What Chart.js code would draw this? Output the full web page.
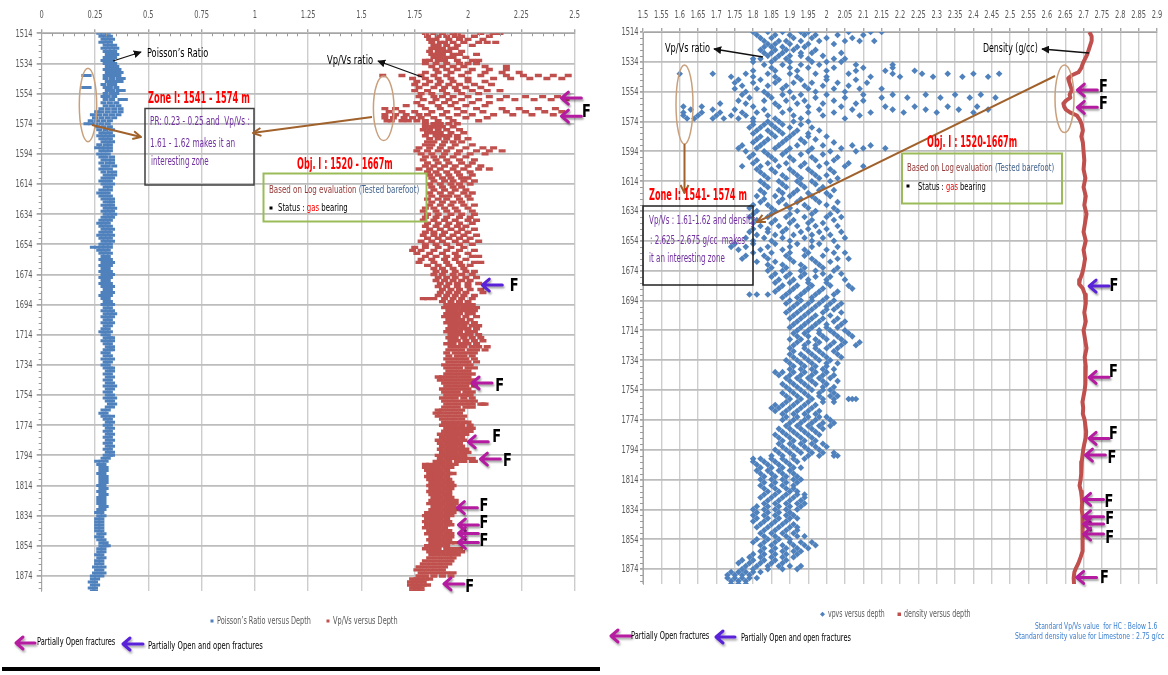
<!DOCTYPE html>
<html lang="en">
<head>
<meta charset="utf-8">
<title>Poisson's ratio, Vp/Vs and density versus depth</title>
<script src="https://cdn.jsdelivr.net/npm/chart.js@4.4.1/dist/chart.umd.min.js"></script>
<style>
  html,body{margin:0;padding:0;background:#fff;}
  #page{position:relative;width:1168px;height:675px;overflow:hidden;background:#fff;
        font-family:'Liberation Sans Narrow','DejaVu Sans Condensed','Liberation Sans',sans-serif;}
  #page canvas{position:absolute;top:0;}
  #cvL{left:0;}
  #cvR{left:600px;}
  svg.overlay{position:absolute;left:0;top:0;}
  .t{position:absolute;white-space:nowrap;line-height:1.15;transform-origin:0 50%;transform:translateY(-50%);}
  .red{color:#ff0000;font-weight:bold;}
  .pur{color:#7030a0;}
  .lg{color:#595959;}
  .note{color:#3a7fd0;}
  .bar{position:absolute;left:2px;top:667px;width:598px;height:4px;background:#000;}
</style>
</head>
<body>
<div id="page">
  <canvas id="cvL" width="598" height="600"></canvas>
  <canvas id="cvR" width="568" height="600"></canvas>

  <svg class="overlay" width="1168" height="675" viewBox="0 0 1168 675">
    <defs>
      <marker id="hk" viewBox="0 0 10 10" refX="9" refY="5" markerUnits="userSpaceOnUse" markerWidth="8" markerHeight="8" orient="auto">
        <path d="M0,0 L10,5 L0,10 z" fill="#111"/>
      </marker>
      <marker id="hb" viewBox="0 0 10 10" refX="9" refY="5" markerUnits="userSpaceOnUse" markerWidth="10" markerHeight="10" orient="auto">
        <path d="M1,1 L9,5 L1,9" fill="none" stroke="#a0612b" stroke-width="2"/>
      </marker>
      <filter id="sh" x="-30%" y="-60%" width="160%" height="220%">
        <feDropShadow dx="1" dy="2" stdDeviation="1" flood-color="#000" flood-opacity="0.35"/>
      </filter>
    </defs>

    <!-- left panel callouts -->
    <line x1="113" y1="61" x2="141" y2="52" stroke="#111" stroke-width="1.3" marker-end="url(#hk)"/>
    <ellipse cx="88" cy="105" rx="8.7" ry="36.7" fill="none" stroke="#c9a07c" stroke-width="1.5"/>
    <line x1="92" y1="125" x2="141" y2="137" stroke="#a0612b" stroke-width="2" marker-end="url(#hb)"/>
    <rect x="145" y="108.5" width="109" height="76.5" fill="none" stroke="#3f3f3f" stroke-width="1.5"/>
    <line x1="422" y1="77" x2="378" y2="61" stroke="#111" stroke-width="1.3" marker-end="url(#hk)"/>
    <ellipse cx="383.7" cy="108.3" rx="10.3" ry="32.3" fill="none" stroke="#c9a07c" stroke-width="1.5"/>
    <line x1="372" y1="117" x2="253" y2="133" stroke="#a0612b" stroke-width="2" marker-end="url(#hb)"/>
    <rect x="263.5" y="173.5" width="163" height="48" fill="none" stroke="#9bbb59" stroke-width="2"/>
    <rect x="269.5" y="206.5" width="3" height="3" fill="#000"/>

    <!-- right panel callouts -->
    <line x1="763" y1="57" x2="714" y2="49" stroke="#111" stroke-width="1.3" marker-end="url(#hk)"/>
    <ellipse cx="684.5" cy="104.5" rx="8.5" ry="39.5" fill="none" stroke="#c9a07c" stroke-width="1.5"/>
    <line x1="684.5" y1="144" x2="684.5" y2="193" stroke="#a0612b" stroke-width="2" marker-end="url(#hb)"/>
    <rect x="643" y="206" width="110" height="79" fill="none" stroke="#222" stroke-width="1.5"/>
    <line x1="1055" y1="76" x2="757" y2="222" stroke="#a0612b" stroke-width="2" marker-end="url(#hb)"/>
    <ellipse cx="1064.5" cy="98.8" rx="9.5" ry="33.8" fill="none" stroke="#c9a07c" stroke-width="1.5"/>
    <line x1="1089" y1="53" x2="1042" y2="49" stroke="#111" stroke-width="1.3" marker-end="url(#hk)"/>
    <rect x="902" y="153.5" width="160" height="50" fill="none" stroke="#9bbb59" stroke-width="2"/>
    <rect x="906.5" y="184.5" width="3" height="3" fill="#000"/>

    <!-- legend markers -->
    <rect x="210.5" y="619.5" width="3" height="3" fill="#4f81bd"/>
    <rect x="326.5" y="619.5" width="3" height="3" fill="#c0504d"/>
    <path d="M822.5,611.8 L825,614.3 L822.5,616.8 L820,614.3 z" fill="#4f81bd"/>
    <rect x="897.5" y="612.5" width="3.5" height="3.5" fill="#c0504d"/>

    <!-- fracture key arrows -->
    <g filter="url(#sh)" fill="none" stroke-width="3" stroke-linecap="round" stroke-linejoin="round">
      <path d="M35,643 H16 M23,637 L16,643 L23,649" stroke="#b51ba0"/>
      <path d="M143,644 H123 M130,638 L123,644 L130,650" stroke="#5a22d8"/>
      <path d="M631,636 H611 M618,630 L611,636 L618,642" stroke="#b51ba0"/>
      <path d="M735,637 H716 M723,631 L716,637 L723,643" stroke="#5a22d8"/>
    </g>
  </svg>

  <!-- left panel text -->
  <div class="t" data-w="61" style="left:147px;top:53px;font-size:13px;color:#000">Poisson’s Ratio</div>
  <div class="t" data-w="46" style="left:327px;top:60px;font-size:13px;color:#000">Vp/Vs ratio</div>
  <div class="t red" data-w="102" style="left:148px;top:99px;font-size:15px">Zone I: 1541 - 1574 m</div>
  <div class="t pur" data-w="100" style="left:150px;top:122px;font-size:11.5px">PR: 0.23 - 0.25 and&nbsp; Vp/Vs :</div>
  <div class="t pur" data-w="85" style="left:150px;top:143px;font-size:12.5px">1.61 - 1.62 makes it an</div>
  <div class="t pur" data-w="58" style="left:151px;top:162px;font-size:11.5px">interesting zone</div>
  <div class="t red" data-w="96" style="left:297px;top:165px;font-size:15px">Obj. I : 1520 - 1667m</div>
  <div class="t" data-w="150" style="left:269px;top:190px;font-size:11px"><span style="color:#953735">Based on Log evaluation</span> <span style="color:#44658f">(Tested barefoot)</span></div>
  <div class="t" data-w="70" style="left:278px;top:208px;font-size:11px;color:#000">Status : <span style="color:#ff0000">gas</span> bearing</div>
  <div class="t lg" data-w="94" style="left:217px;top:621px;font-size:10px">Poisson’s Ratio versus Depth</div>
  <div class="t lg" data-w="65" style="left:333px;top:621px;font-size:10px">Vp/Vs versus Depth</div>
  <div class="t" data-w="78" style="left:37px;top:641px;font-size:10.5px;color:#000">Partially Open fractures</div>
  <div class="t" data-w="115" style="left:148px;top:645px;font-size:10.5px;color:#000">Partially Open and open fractures</div>
  <div class="bar"></div>

  <!-- right panel text -->
  <div class="t" data-w="45" style="left:665px;top:48px;font-size:13px;color:#000">Vp/Vs ratio</div>
  <div class="t" data-w="55" style="left:983px;top:48px;font-size:13px;color:#000">Density (g/cc)</div>
  <div class="t red" data-w="98" style="left:649px;top:196px;font-size:15px">Zone I: 1541- 1574 m</div>
  <div class="t pur" data-w="106" style="left:649px;top:221px;font-size:12px">Vp/Vs : 1.61-1.62 and density</div>
  <div class="t pur" data-w="95" style="left:650px;top:241px;font-size:12px">: 2.625 -2.675 g/cc&nbsp; makes</div>
  <div class="t pur" data-w="76" style="left:649px;top:259px;font-size:12px">it an interesting zone</div>
  <div class="t red" data-w="90" style="left:927px;top:143px;font-size:15px">Obj. I : 1520-1667m</div>
  <div class="t" data-w="147" style="left:907px;top:168px;font-size:11px"><span style="color:#953735">Based on Log evaluation</span> <span style="color:#44658f">(Tested barefoot)</span></div>
  <div class="t" data-w="68" style="left:918px;top:187px;font-size:11px;color:#000">Status : <span style="color:#ff0000">gas</span> bearing</div>
  <div class="t lg" data-w="57" style="left:828px;top:614px;font-size:10px">vpvs versus depth</div>
  <div class="t lg" data-w="67" style="left:904px;top:614px;font-size:10px">density versus depth</div>
  <div class="t" data-w="78" style="left:631px;top:635px;font-size:10.5px;color:#000">Partially Open fractures</div>
  <div class="t" data-w="110" style="left:741px;top:637px;font-size:10.5px;color:#000">Partially Open and open fractures</div>
  <div class="t note" data-w="122" style="left:1035px;top:627px;font-size:8.5px">Standard Vp/Vs value&nbsp; for HC : Below 1.6</div>
  <div class="t note" data-w="149" style="left:1015px;top:637px;font-size:8.5px">Standard density value for Limestone : 2.75 g/cc</div>
</div>

<script>
// ---- axis tick values ----
const depthTicks = [1514, 1534, 1554, 1574, 1594, 1614, 1634, 1654, 1674, 1694, 1714, 1734,
                    1754, 1774, 1794, 1814, 1834, 1854, 1874];
const leftXTicks = [0, 0.25, 0.5, 0.75, 1, 1.25, 1.5, 1.75, 2, 2.25, 2.5];
const rightXTicks = [1.5, 1.55, 1.6, 1.65, 1.7, 1.75, 1.8, 1.85, 1.9, 1.95, 2, 2.05, 2.1, 2.15,
                     2.2, 2.25, 2.3, 2.35, 2.4, 2.45, 2.5, 2.55, 2.6, 2.65, 2.7, 2.75, 2.8, 2.85, 2.9];

// ---- Poisson's ratio: [depth, samples...] ----
const poissonRows = [
  [1514,0.27,0.29,0.31],[1516,0.28,0.30,0.32],[1518,0.29,0.31,0.33],[1520,0.28,0.30,0.32],
  [1522,0.30,0.32,0.34],[1524,0.29,0.31,0.33,0.35],[1526,0.30,0.32,0.34],[1528,0.31,0.33,0.35],
  [1530,0.30,0.32,0.34],[1532,0.29,0.31,0.33],[1534,0.30,0.32,0.34],[1536,0.31,0.33,0.35],
  [1538,0.30,0.32,0.34,0.36],[1540,0.31,0.33,0.35,0.37],[1542,0.20,0.22,0.30,0.32,0.34,0.36],
  [1544,0.30,0.33,0.36,0.38],[1546,0.31,0.33,0.35,0.37],[1548,0.29,0.32,0.34],
  [1550,0.20,0.22,0.30,0.32,0.35],[1552,0.31,0.33,0.36,0.38],[1554,0.30,0.33,0.35],
  [1556,0.29,0.31,0.34],[1558,0.30,0.33,0.37,0.39],[1560,0.29,0.32,0.35],[1562,0.30,0.33,0.36],
  [1564,0.28,0.31,0.34,0.37],[1566,0.26,0.28,0.31,0.34,0.37],[1568,0.24,0.27,0.30,0.33,0.36],
  [1570,0.25,0.28,0.31,0.34],[1572,0.23,0.26,0.29,0.32],[1574,0.21,0.23,0.25,0.28,0.31],
  [1576,0.26,0.29,0.32],[1578,0.27,0.30,0.33],[1580,0.28,0.30,0.32],[1582,0.27,0.29,0.31,0.33],
  [1584,0.28,0.30,0.32],[1586,0.29,0.31,0.33],[1588,0.27,0.30,0.32],[1590,0.26,0.28,0.30,0.32],
  [1592,0.28,0.30,0.32],[1594,0.27,0.29,0.31],[1596,0.28,0.30,0.33],[1598,0.29,0.31,0.33],
  [1600,0.28,0.31,0.33],[1602,0.29,0.31,0.34],[1604,0.28,0.30,0.32],[1606,0.29,0.32,0.34],
  [1608,0.30,0.32,0.34],[1610,0.29,0.31,0.33],[1612,0.28,0.30,0.32],[1614,0.29,0.31,0.33],
  [1616,0.30,0.32],[1618,0.28,0.30,0.32],[1620,0.27,0.29,0.31],[1622,0.28,0.30,0.32],
  [1624,0.29,0.31,0.33],[1626,0.30,0.32,0.33],[1628,0.29,0.31,0.33],[1630,0.30,0.32,0.34],
  [1632,0.29,0.31,0.33],[1634,0.30,0.32,0.34],[1636,0.29,0.31,0.33],[1638,0.28,0.30,0.32],
  [1640,0.27,0.29,0.31],[1642,0.28,0.30,0.32],[1644,0.29,0.31,0.33],[1646,0.28,0.30,0.32],
  [1648,0.27,0.29,0.31,0.33],[1650,0.28,0.30,0.32],[1652,0.29,0.31,0.33],[1654,0.28,0.30,0.32],
  [1656,0.24,0.26,0.28,0.30,0.32],[1658,0.27,0.29,0.31],[1660,0.28,0.30,0.32],[1662,0.29,0.31],
  [1664,0.28,0.30,0.32],[1666,0.29,0.31,0.33],[1668,0.28,0.30,0.32],[1670,0.29,0.31],
  [1672,0.28,0.30,0.32],[1674,0.29,0.31,0.33],[1676,0.28,0.30,0.32],[1678,0.29,0.31],
  [1680,0.28,0.30,0.32],[1682,0.29,0.31,0.33],[1684,0.30,0.32],[1686,0.29,0.31,0.33],
  [1688,0.28,0.30,0.32],[1690,0.29,0.31],[1692,0.30,0.32],[1694,0.29,0.31,0.33],
  [1696,0.30,0.32],[1698,0.29,0.31,0.33],[1700,0.30,0.32,0.34],[1702,0.29,0.31,0.33],
  [1704,0.30,0.32],[1706,0.29,0.31,0.33],[1708,0.30,0.32],[1710,0.29,0.31],
  [1712,0.28,0.30,0.32],[1714,0.29,0.31],[1716,0.30,0.32,0.33],[1718,0.29,0.31,0.33],
  [1720,0.30,0.32],[1722,0.31,0.33],[1724,0.30,0.32,0.33],[1726,0.29,0.31],
  [1728,0.30,0.32],[1730,0.29,0.31,0.33],[1732,0.30,0.32],[1734,0.29,0.31],
  [1736,0.30,0.32,0.33],[1738,0.31,0.33],[1740,0.30,0.32],[1742,0.31,0.33],
  [1744,0.30,0.32],[1746,0.31,0.33],[1748,0.30,0.32,0.34],[1750,0.31,0.33],
  [1752,0.30,0.32],[1754,0.31,0.33],[1756,0.30,0.32,0.34],[1758,0.31,0.33],
  [1760,0.32,0.34],[1762,0.31,0.33],[1764,0.29,0.31],[1766,0.28,0.30],
  [1768,0.29,0.31,0.33],[1770,0.30,0.32],[1772,0.31,0.33],[1774,0.30,0.32],
  [1776,0.31,0.33],[1778,0.30,0.32],[1780,0.31,0.33],[1782,0.30,0.32],
  [1784,0.31,0.33],[1786,0.30,0.32],[1788,0.31,0.33],[1790,0.30,0.32],
  [1792,0.31,0.33],[1794,0.30,0.32,0.33],[1796,0.29,0.31],[1798,0.26,0.28,0.30],
  [1800,0.27,0.29],[1802,0.28,0.30],[1804,0.28,0.30],[1806,0.27,0.29],
  [1808,0.28,0.30],[1810,0.28,0.30],[1812,0.28,0.30],[1814,0.27,0.29],
  [1816,0.28,0.30],[1818,0.27,0.29],[1820,0.28,0.30],[1822,0.27,0.29],
  [1824,0.27,0.29],[1826,0.27,0.29],[1828,0.28,0.30],[1830,0.27,0.29],
  [1832,0.26,0.28],[1834,0.27,0.29],[1836,0.26,0.28],[1838,0.26,0.28],
  [1840,0.26,0.28],[1842,0.26,0.28],[1844,0.26,0.28],[1846,0.27,0.29],
  [1848,0.26,0.28],[1850,0.27,0.29],[1852,0.28,0.30],[1854,0.28,0.30,0.31],
  [1856,0.27,0.29],[1858,0.27,0.29],[1860,0.26,0.28],[1862,0.27,0.29],
  [1864,0.26,0.28],[1866,0.26,0.28],[1868,0.25,0.27,0.29],[1870,0.26,0.28],
  [1872,0.25,0.27,0.29],[1874,0.24,0.26,0.28],[1876,0.24,0.26],[1878,0.23,0.25],
  [1880,0.24,0.26],[1882,0.23,0.25],[1884,0.24,0.25]
];

// ---- Vp/Vs ratio: [depth, samples...] (same log in both panels) ----
const vpvsRows = [
  [1514,1.80,1.84,1.88,1.93,1.95,2.06,2.12,2.15],[1516,1.81,1.86,1.90,1.94,1.97,2.03,2.10],
  [1518,1.82,1.85,1.91,1.96,2.00,2.07],[1520,1.83,1.87,1.89,1.93,1.98,2.05,2.09,2.13],
  [1522,1.84,1.86,1.90,1.95,2.02],[1524,1.83,1.85,1.88,1.92,1.94],[1526,1.82,1.86,1.89,1.91,1.97],
  [1528,1.83,1.85,1.88,1.93,1.96,2.04],[1530,1.84,1.87,1.90,1.93,1.99],
  [1532,1.80,1.82,1.86,1.89,1.95,2.02,2.05],[1534,1.80,1.85,1.90,1.96,2.00,2.04],
  [1536,1.83,1.88,1.93,1.98,2.08,2.18],[1538,1.85,1.90,1.95,2.02,2.10,2.18],
  [1540,1.80,1.86,1.92,2.00,2.08,2.16,2.24],
  [1542,1.60,1.69,1.78,1.84,1.90,1.97,2.06,2.18,2.26,2.33,2.40,2.47],
  [1544,1.74,1.80,1.86,1.92,2.00,2.12,2.20,2.29,2.37,2.44],[1546,1.76,1.82,1.87,1.93,2.00,2.08],
  [1548,1.75,1.80,1.86,1.91,1.96,2.03,2.11],[1550,1.77,1.84,1.89,1.94,1.99,2.06],
  [1552,1.75,1.81,1.88,1.95,2.02,2.09,2.15],[1554,1.78,1.83,1.90,1.97,2.05],
  [1556,1.77,1.84,1.88,1.93,2.00,2.10,2.18,2.27,2.35,2.42],
  [1558,1.79,1.85,1.91,1.97,2.05,2.15,2.22,2.31,2.39,2.46],[1560,1.76,1.83,1.89,1.94,2.02,2.10],
  [1562,1.71,1.78,1.86,1.92,1.99,2.08],
  [1564,1.61,1.66,1.80,1.87,1.95,2.04,2.16,2.24,2.33,2.41],
  [1566,1.63,1.69,1.75,1.83,1.90,1.98,2.07,2.18,2.27,2.36,2.44],
  [1568,1.61,1.66,1.71,1.77,1.81,1.88,1.95,2.02,2.12,2.21,2.30,2.40],
  [1570,1.61,1.65,1.70,1.74,1.78,1.84,1.91,1.99,2.09],
  [1572,1.62,1.64,1.69,1.72,1.76,1.80,1.86,1.93,2.05],[1574,1.80,1.84,1.87,1.91,1.95],
  [1576,1.80,1.83,1.85,1.88,1.93],[1578,1.79,1.82,1.86,1.90,1.96],[1580,1.81,1.84,1.87,1.92,1.98],
  [1582,1.80,1.85,1.88,1.91,1.95],[1584,1.82,1.86,1.90,1.95,2.00],[1586,1.81,1.84,1.89,1.93,1.97],
  [1588,1.80,1.83,1.88,1.94,2.02],[1590,1.77,1.82,1.87,1.92,1.99,2.07,2.12],
  [1592,1.76,1.81,1.86,1.90,1.96,2.04,2.10,2.16],[1594,1.78,1.83,1.89,1.95,2.01,2.08],
  [1596,1.80,1.84,1.88,1.93,1.99],[1598,1.79,1.85,1.90,1.96,2.03],[1600,1.81,1.86,1.91,1.97,2.02],
  [1602,1.80,1.84,1.89,1.94,2.00,2.06],[1604,1.77,1.82,1.87,1.93,1.98,2.05,2.10],
  [1606,1.81,1.85,1.90,1.95,2.01],[1608,1.82,1.86,1.91,1.96,2.02],[1610,1.83,1.88,1.92,1.97,2.00],
  [1612,1.84,1.89,1.93,1.98,2.03],[1614,1.82,1.87,1.92,1.96,2.01],[1616,1.83,1.88,1.93,1.97],
  [1618,1.84,1.89,1.94,1.99],[1620,1.82,1.87,1.92,1.98,2.02],[1622,1.83,1.88,1.91,1.95,2.00],
  [1624,1.81,1.86,1.90,1.96,2.01],[1626,1.83,1.88,1.93,1.97],[1628,1.82,1.87,1.92,1.98,2.03],
  [1630,1.80,1.84,1.89,1.94,2.00],[1632,1.79,1.85,1.90,1.95,2.02],[1634,1.81,1.86,1.92,1.97,2.03],
  [1636,1.80,1.85,1.90,1.96,2.01],[1638,1.79,1.84,1.89,1.94,2.00,2.04],[1640,1.81,1.86,1.91,1.96,2.02],
  [1642,1.80,1.85,1.90,1.95,1.99],[1644,1.82,1.87,1.92,1.97,2.03],[1646,1.80,1.84,1.89,1.95,2.00],
  [1648,1.79,1.84,1.88,1.93,1.98,2.04],[1650,1.81,1.86,1.91,1.96,2.01],
  [1652,1.78,1.83,1.88,1.94,1.99,2.05],[1654,1.80,1.85,1.90,1.96,2.02],[1656,1.75,1.80,1.86,1.92,1.98],
  [1658,1.74,1.78,1.84,1.90,1.96,2.03],[1660,1.76,1.82,1.88,1.94,2.00],
  [1662,1.80,1.85,1.90,1.95,2.02,2.05],[1664,1.78,1.83,1.89,1.94,1.99],
  [1666,1.77,1.84,1.90,1.96,2.03,2.06],[1668,1.81,1.86,1.91,1.97,2.01],[1670,1.84,1.88,1.93,1.98],
  [1672,1.85,1.89,1.94,1.99,2.03],[1674,1.84,1.88,1.93,1.97,2.02],[1676,1.86,1.90,1.94,1.99,2.04],
  [1678,1.85,1.89,1.93,1.97,2.01],[1680,1.87,1.91,1.95,2.00,2.05],[1682,1.86,1.90,1.95,2.00],
  [1684,1.88,1.92,1.96,2.01,2.06],[1686,1.87,1.91,1.95,1.99,2.07],[1688,1.86,1.90,1.94,1.98,2.03],
  [1690,1.79,1.81,1.84,1.89,1.93,1.97,2.02],[1692,1.88,1.92,1.96,2.00],
  [1694,1.90,1.93,1.96,1.99,2.02],[1696,1.89,1.92,1.95,1.98,2.01,2.04],[1698,1.91,1.94,1.97,2.00,2.03],
  [1700,1.90,1.93,1.96,2.00,2.02],[1702,1.89,1.92,1.95,1.99,2.04],[1704,1.91,1.94,1.97,2.01],
  [1706,1.90,1.93,1.96,1.99,2.03],[1708,1.92,1.95,1.98,2.02,2.05],[1710,1.91,1.94,1.97,2.00,2.04],
  [1712,1.90,1.93,1.96,2.00,2.03],[1714,1.92,1.95,1.98,2.01,2.05],[1716,1.91,1.94,1.98,2.02,2.06],
  [1718,1.92,1.95,1.99,2.03,2.07],[1720,1.90,1.93,1.97,2.00,2.04],[1722,1.92,1.95,1.98,2.02,2.05,2.09],
  [1724,1.91,1.94,1.97,2.01,2.04,2.08],[1726,1.90,1.94,1.97,2.00,2.03],[1728,1.91,1.95,1.98,2.02],
  [1730,1.90,1.93,1.96,1.99,2.03],[1732,1.91,1.94,1.97,2.00,2.04],[1734,1.89,1.92,1.95,1.98,2.01],
  [1736,1.90,1.93,1.96,2.00,2.03],[1738,1.91,1.94,1.97,2.00],[1740,1.90,1.93,1.96,1.99,2.02],
  [1742,1.86,1.88,1.91,1.94,1.97,2.00],[1744,1.87,1.90,1.93,1.96,1.99,2.02],
  [1746,1.89,1.92,1.95,1.98,2.01],[1748,1.90,1.93,1.96,1.99,2.03],[1750,1.88,1.91,1.94,1.97,2.00],
  [1752,1.89,1.92,1.95,1.99,2.02],[1754,1.90,1.93,1.96,1.99,2.01],[1756,1.88,1.91,1.94,1.98,2.02],
  [1758,1.89,1.92,1.95,1.98,2.01,2.03],[1760,1.90,1.93,1.96,1.99,2.02,2.06,2.07,2.08],
  [1762,1.89,1.92,1.95,1.99,2.02],[1764,1.86,1.88,1.91,1.94,1.97],[1766,1.85,1.87,1.90,1.93,1.96],
  [1768,1.86,1.89,1.92,1.95,1.98],[1770,1.88,1.91,1.94,1.97],[1772,1.89,1.92,1.95,1.98,2.00],
  [1774,1.88,1.91,1.94,1.97,2.01],[1776,1.90,1.93,1.96,1.99,2.02],[1778,1.89,1.92,1.95,1.98,2.01],
  [1780,1.87,1.90,1.93,1.96,1.99],[1782,1.88,1.91,1.94,1.97],[1784,1.86,1.89,1.92,1.95,1.98],
  [1786,1.87,1.90,1.93,1.96],[1788,1.88,1.91,1.94,1.97],[1790,1.87,1.90,1.93,1.96,1.99],
  [1792,1.88,1.91,1.94,1.97,2.00],[1794,1.86,1.89,1.92,1.95,1.98],[1796,1.87,1.90,1.93,1.96,1.99,2.02],
  [1798,1.85,1.88,1.91,1.95,1.98,2.02,2.03],[1800,1.80,1.82,1.85,1.88,1.91,1.94],
  [1802,1.80,1.83,1.86,1.89,1.92],[1804,1.81,1.84,1.87,1.90],[1806,1.82,1.85,1.88,1.91,1.93],
  [1808,1.81,1.84,1.87,1.90],[1810,1.82,1.85,1.88,1.91],[1812,1.83,1.86,1.89,1.92],
  [1814,1.82,1.85,1.88,1.91,1.93],[1816,1.83,1.86,1.89,1.92],[1818,1.82,1.85,1.88,1.91],
  [1820,1.83,1.86,1.89,1.91],[1822,1.84,1.87,1.90,1.92],[1824,1.83,1.86,1.89,1.92,1.94],
  [1826,1.82,1.85,1.88,1.91,1.94],[1828,1.84,1.87,1.90,1.93],[1830,1.83,1.86,1.89,1.92,1.94],
  [1832,1.81,1.84,1.87,1.90,1.93],[1834,1.80,1.83,1.86,1.89,1.92],[1836,1.81,1.84,1.87,1.90],
  [1838,1.80,1.83,1.86,1.89,1.91],[1840,1.81,1.84,1.87,1.90,1.92],[1842,1.80,1.83,1.86,1.89],
  [1844,1.82,1.85,1.88,1.91],[1846,1.81,1.84,1.87,1.90,1.92],[1848,1.83,1.86,1.89,1.92],
  [1850,1.82,1.85,1.88,1.91],[1852,1.83,1.86,1.89,1.92,1.94],[1854,1.81,1.84,1.87,1.90],
  [1856,1.80,1.83,1.86,1.90,1.93,1.96],[1858,1.82,1.85,1.88,1.91,1.94,1.97],
  [1860,1.83,1.86,1.89,1.92,1.95],[1862,1.82,1.85,1.88,1.91,1.93],[1864,1.80,1.83,1.86,1.89,1.92],
  [1866,1.79,1.82,1.85,1.88,1.91],[1868,1.77,1.80,1.83,1.86,1.89],[1870,1.76,1.79,1.82,1.85,1.88],
  [1872,1.78,1.81,1.84,1.87,1.90,1.93],[1874,1.77,1.80,1.84,1.88,1.92],
  [1876,1.74,1.76,1.78,1.80,1.82],[1878,1.73,1.75,1.77,1.79],[1880,1.73,1.75,1.77,1.79,1.81],
  [1882,1.74,1.76,1.78],[1884,1.74,1.76,1.78]
];

// ---- bulk density (g/cc) ----
const densityDepth = [1514,1517,1520,1523,1526,1529,1532,1535,1538,1541,1543,1545,1547,1550,1553,1556,
  1558,1560,1562,1564,1566,1568,1570,1573,1576,1580,1584,1588,1594,1600,1606,1612,1618,1624,1630,1636,
  1642,1648,1654,1660,1666,1672,1676,1680,1683,1686,1690,1696,1702,1708,1714,1720,1726,1732,1738,1744,
  1750,1754,1758,1762,1766,1770,1774,1778,1782,1786,1790,1794,1798,1802,1806,1810,1814,1818,1822,1826,
  1830,1834,1838,1842,1846,1850,1854,1858,1862,1866,1870,1873,1876,1880,1884];
const densityValue = [2.716,2.722,2.722,2.718,2.714,2.710,2.704,2.698,2.694,2.686,2.668,2.658,2.660,2.664,
  2.668,2.662,2.664,2.652,2.645,2.647,2.652,2.664,2.682,2.690,2.695,2.698,2.694,2.698,2.700,2.702,2.700,
  2.705,2.700,2.706,2.702,2.708,2.704,2.700,2.706,2.700,2.704,2.700,2.696,2.690,2.688,2.698,2.704,2.706,
  2.702,2.706,2.700,2.704,2.708,2.703,2.706,2.704,2.706,2.703,2.700,2.697,2.699,2.698,2.703,2.705,2.707,
  2.706,2.702,2.699,2.697,2.695,2.694,2.693,2.692,2.689,2.693,2.695,2.696,2.695,2.697,2.698,2.697,2.698,
  2.698,2.697,2.696,2.692,2.686,2.680,2.675,2.673,2.674];

// ---- fracture picks: arrow depth, arrow tip (x value), type ----
const fracDepthL = [1557, 1569, 1681, 1746, 1785, 1796.5, 1828.7, 1840.2, 1845.8, 1851.8, 1879.3];
const fracTipL   = [2.438, 2.438, 2.067, 2.019, 2.001, 2.058, 1.950, 1.955, 1.955, 1.955, 1.887];
const fracKindL  = ['partial','partial','open','partial','partial','partial','partial','partial','partial','partial','partial'];
const fLabelDepthL = [1565.5, 1681.5, 1747.3, 1781.6, 1797.5, 1827, 1838.6, 1850.5, 1880.6];
const fLabelXL     = [2.555, 2.216, 2.149, 2.135, 2.185, 2.075, 2.075, 2.075, 2.008];

const fracDepthR = [1552.9, 1564.5, 1684.3, 1745.5, 1786.4, 1797.6, 1827.3, 1838.9, 1843.8, 1850.5, 1879.6];
const fracTipR   = [2.683, 2.683, 2.715, 2.715, 2.715, 2.705, 2.700, 2.700, 2.700, 2.700, 2.681];
const fracKindR  = ['partial','partial','open','partial','partial','partial','partial','partial','partial','partial','partial'];
const fLabelDepthR = [1550.2, 1561.6, 1683.6, 1741.7, 1783, 1799, 1828.3, 1840, 1852.4, 1879.4];
const fLabelXR     = [2.754, 2.754, 2.783, 2.781, 2.781, 2.777, 2.769, 2.771, 2.771, 2.757];

// ---- styling ----
const FONT = "'Liberation Sans Narrow','DejaVu Sans Condensed',sans-serif";
const BLUE = '#4f81bd', RED = '#c0504d';
const MAGENTA = '#b51ba0', VIOLET = '#5a22d8';

// stretch each annotation line to its measured width
document.querySelectorAll('.t').forEach(el => {
  const k = (+el.dataset.w) / el.offsetWidth;
  el.style.transform = 'translateY(-50%) scaleX(' + k.toFixed(3) + ')';
});

const toPoints = rows => rows.flatMap(r => r.slice(1).map(v => ({x: v, y: r[0]})));

function drawFracArrow(ctx, x, y, color) {
  ctx.save();
  ctx.shadowColor = 'rgba(0,0,0,0.35)';
  ctx.shadowOffsetX = 1; ctx.shadowOffsetY = 2; ctx.shadowBlur = 2;
  ctx.strokeStyle = color; ctx.lineWidth = 3;
  ctx.lineCap = 'round'; ctx.lineJoin = 'round';
  ctx.beginPath();
  ctx.moveTo(x + 20, y); ctx.lineTo(x + 1, y);
  ctx.moveTo(x + 7, y - 6); ctx.lineTo(x, y); ctx.lineTo(x + 7, y + 6);
  ctx.stroke();
  ctx.restore();
}

function fracturePlugin(depths, tips, kinds, labelDepths, labelXs) {
  return {
    id: 'fractures',
    afterDatasetsDraw(chart) {
      const {ctx, scales: {x, y}} = chart;
      depths.forEach((d, i) => {
        drawFracArrow(ctx, x.getPixelForValue(tips[i]), y.getPixelForValue(d),
                      kinds[i] === 'open' ? VIOLET : MAGENTA);
      });
      ctx.save();
      ctx.fillStyle = '#000';
      ctx.font = 'bold 18px ' + FONT;
      ctx.textAlign = 'center';
      ctx.textBaseline = 'middle';
      labelDepths.forEach((d, i) => {
        ctx.save();
        ctx.translate(x.getPixelForValue(labelXs[i]), y.getPixelForValue(d));
        ctx.scale(0.8, 1);
        ctx.fillText('F', 0, 1);
        ctx.restore();
      });
      ctx.restore();
    }
  };
}

// short minor tick marks on the depth axis (every 4 m) and optionally on the top axis
function minorTickPlugin(xMinorStep, xMax) {
  return {
    id: 'minorTicks',
    afterDraw(chart) {
      const {ctx, chartArea: a, scales: {x, y}} = chart;
      ctx.save();
      ctx.strokeStyle = '#9a9a9a';
      ctx.lineWidth = 1;
      ctx.beginPath();
      for (let d = 1514; d <= y.max; d += 4) {
        if ((d - 1514) % 20 === 0) continue;
        const py = Math.round(y.getPixelForValue(d)) + 0.5;
        ctx.moveTo(a.left - 3, py); ctx.lineTo(a.left, py);
      }
      if (xMinorStep) {
        for (let i = 1; i * xMinorStep < xMax; i++) {
          if (i % 5 === 0) continue;
          const px = Math.round(x.getPixelForValue(i * xMinorStep)) + 0.5;
          ctx.moveTo(px, a.top); ctx.lineTo(px, a.top + 3);
        }
      }
      ctx.stroke();
      ctx.restore();
    }
  };
}

// narrow tick labels: placed from the scales' own ticks, drawn condensed
function tickLabelPlugin(yRight, xMid) {
  return {
    id: 'tickLabels',
    afterDraw(chart) {
      const {ctx, scales: {x, y}} = chart;
      ctx.save();
      ctx.font = '11px ' + FONT;
      ctx.fillStyle = '#595959';
      const sx = 17 / ctx.measureText('1514').width;
      ctx.textBaseline = 'middle';
      ctx.textAlign = 'right';
      y.ticks.forEach(t => {
        ctx.save();
        ctx.translate(yRight, y.getPixelForValue(t.value));
        ctx.scale(sx, 1);
        ctx.fillText(String(t.value), 0, 0.5);
        ctx.restore();
      });
      ctx.textAlign = 'center';
      x.ticks.forEach(t => {
        ctx.save();
        ctx.translate(x.getPixelForValue(t.value), xMid);
        ctx.scale(sx, 1);
        ctx.fillText(String(t.value), 0, 0);
        ctx.restore();
      });
      ctx.restore();
    }
  };
}

function depthAxis(maxDepth, width, tickLen) {
  return {
    type: 'linear', reverse: true, min: 1514, max: maxDepth,
    afterBuildTicks: s => { s.ticks = depthTicks.map(v => ({value: v})); },
    afterFit: s => { s.width = width; },
    grid: {color: '#bdbdbd', lineWidth: 1.8, tickLength: tickLen, tickColor: '#a6a6a6'},
    border: {color: '#a6a6a6', width: 1},
    ticks: {display: false}
  };
}

function topAxis(min, max, tickList, height) {
  return {
    type: 'linear', position: 'top', min, max,
    afterBuildTicks: s => { s.ticks = tickList.map(v => ({value: v})); },
    afterFit: s => { s.height = height; },
    grid: {color: '#cdcdcd', lineWidth: 1.4, tickLength: 4, tickColor: '#a6a6a6'},
    border: {color: '#a6a6a6', width: 1},
    ticks: {display: false}
  };
}

const common = {
  responsive: false, maintainAspectRatio: false, animation: false, devicePixelRatio: 1,
  events: [],
  plugins: {legend: {display: false}, tooltip: {enabled: false}}
};

// Left panel: Poisson's ratio and Vp/Vs versus depth
new Chart(document.getElementById('cvL'), {
  type: 'scatter',
  data: {
    datasets: [
      {label: "Poisson's Ratio versus Depth", data: toPoints(poissonRows),
       pointStyle: 'line', pointRadius: 3, pointBorderWidth: 3,
       borderColor: BLUE, backgroundColor: BLUE, pointBorderColor: BLUE},
      {label: 'Vp/Vs versus Depth', data: toPoints(vpvsRows),
       pointStyle: 'line', pointRadius: 3.5, pointBorderWidth: 3.4,
       borderColor: RED, backgroundColor: RED, pointBorderColor: RED}
    ]
  },
  options: Object.assign({}, common, {
    layout: {padding: {top: 0, left: 0, right: 23.4, bottom: 9}},
    scales: {
      x: topAxis(0, 2.5, leftXTicks, 33.3),
      y: depthAxis(1884, 41.7, 5)
    }
  }),
  plugins: [minorTickPlugin(0.05, 2.5), tickLabelPlugin(32.5, 15),
            fracturePlugin(fracDepthL, fracTipL, fracKindL, fLabelDepthL, fLabelXL)]
});

// Right panel: Vp/Vs and bulk density versus depth
new Chart(document.getElementById('cvR'), {
  type: 'scatter',
  data: {
    datasets: [
      {label: 'vpvs versus depth', data: toPoints(vpvsRows),
       pointStyle: 'rectRot', pointRadius: 3.3, pointBorderWidth: 0,
       backgroundColor: BLUE, borderColor: BLUE},
      {label: 'density versus depth',
       data: densityDepth.map((d, i) => ({x: densityValue[i], y: d})),
       showLine: true, pointRadius: 0, borderColor: RED, backgroundColor: RED,
       borderWidth: 4, tension: 0, borderJoinStyle: 'round'}
    ]
  },
  options: Object.assign({}, common, {
    layout: {padding: {top: 0, left: 0, right: 11, bottom: 16}},
    scales: {
      x: topAxis(1.5, 2.9, rightXTicks, 32),
      y: depthAxis(1884, 43, 3)
    }
  }),
  plugins: [minorTickPlugin(null, 0), tickLabelPlugin(38.5, 15),
            fracturePlugin(fracDepthR, fracTipR, fracKindR, fLabelDepthR, fLabelXR)]
});
</script>
</body>
</html>
